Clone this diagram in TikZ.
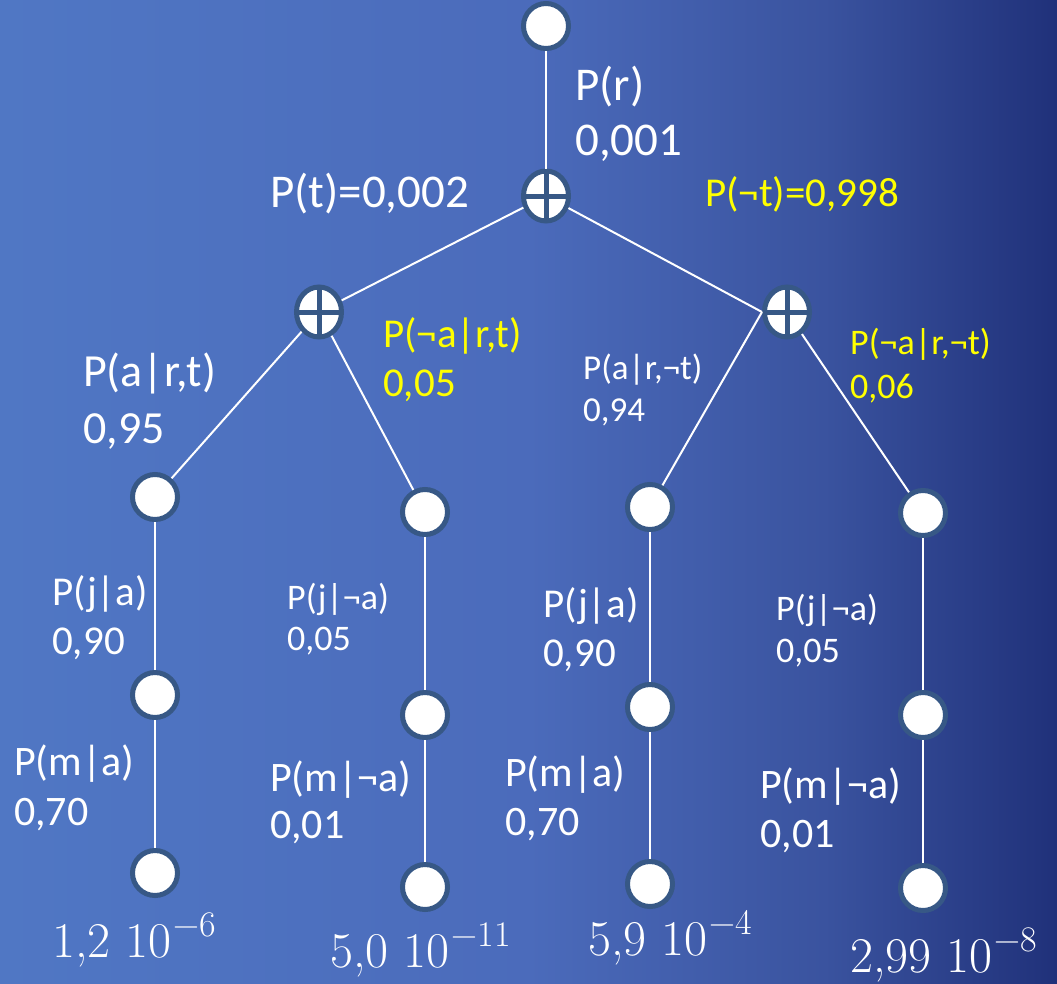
\documentclass[tikz,border=0pt]{standalone}
\usepackage{fontspec}
\setmainfont{Carlito}
\newfontfamily\numfont{Latin Modern Roman}
\usetikzlibrary{shapes.geometric}
\definecolor{bgA}{HTML}{5077C4}
\definecolor{bgB}{HTML}{4B6BBB}
\definecolor{bgC}{HTML}{3A539F}
\definecolor{bgD}{HTML}{20317A}
\definecolor{nodeborder}{HTML}{375886}
\definecolor{ylw}{HTML}{FFFF00}
\pgfdeclarehorizontalshading{bgshade}{100bp}{color(0bp)=(bgA); color(25bp)=(bgA); color(50bp)=(bgB); color(64bp)=(bgC); color(75bp)=(bgD); color(100bp)=(bgD)}
\newcommand{\fsz}[2]{\fontsize{#1}{#2}\selectfont}
\newcommand{\expo}[1]{\kern2pt\raisebox{0.42em}{\fsz{36}{40}#1}}
\begin{document}
\begin{tikzpicture}[x=1pt,y=-1pt,
  leaf/.style={circle, draw=nodeborder, line width=5pt, fill=white, minimum size=45pt, inner sep=0pt},
  chance/.style={ellipse, draw=nodeborder, line width=5pt, fill=white, minimum width=45pt, minimum height=50pt, inner sep=0pt,
    path picture={\draw[nodeborder, line width=5pt] (path picture bounding box.north) -- (path picture bounding box.south)
      (path picture bounding box.west) -- (path picture bounding box.east);}},
  edge/.style={draw=white, line width=2pt},
  lbl/.style={anchor=base west, align=left, inner sep=0pt, text=white},
  ylbl/.style={lbl, text=ylw},
  res/.style={anchor=base west, inner sep=0pt, text=white, font=\numfont\fsz{50}{56}}]
\fill[shading=bgshade] (0,0) rectangle (1057,983);
\useasboundingbox (0,0) rectangle (1057,983);
% nodes
\node[leaf] (root) at (546,26) {};
\node[chance] (c0) at (546,196) {};
\node[chance] (cL) at (319,312) {};
\node[chance] (cR) at (787,312) {};
\node[leaf] (L1) at (155,497) {};
\node[leaf] (L2) at (425,512) {};
\node[leaf] (R1) at (650,507) {};
\node[leaf] (R2) at (923,513) {};
\node[leaf] (L1b) at (155,695) {};
\node[leaf] (L2b) at (425,715) {};
\node[leaf] (R1b) at (650,707) {};
\node[leaf] (R2b) at (923,715) {};
\node[leaf] (L1c) at (155,873) {};
\node[leaf] (L2c) at (425,887) {};
\node[leaf] (R1c) at (650,884) {};
\node[leaf] (R2c) at (923,888) {};
% edges
\draw[edge] (root) -- (c0);
\draw[edge] (c0) -- (cL);
\draw[edge] (c0) -- (cR.west);
\draw[edge] (cL) -- (L1);
\draw[edge] (cL) -- (L2);
\draw[edge] (cR.west) -- (R1);
\draw[edge] (cR) -- (R2);
\draw[edge] (L1) -- (L1b);
\draw[edge] (L1b) -- (L1c);
\draw[edge] (L2) -- (L2b);
\draw[edge] (L2b) -- (L2c);
\draw[edge] (R1) -- (R1b);
\draw[edge] (R1b) -- (R1c);
\draw[edge] (R2) -- (R2b);
\draw[edge] (R2b) -- (R2c);
% labels (base = baseline of last line)
\node[lbl, font=\fsz{47}{55}] (tr) at (575,155) {P(r)\\0,001};
\node[lbl, font=\fsz{47}{55}] (tt) at (270,207) {P(t)=0,002};
\node[ylbl, font=\fsz{41}{48}] (tnt) at (705,206) {P(¬t)=0,998};
\node[lbl, font=\fsz{46}{57}] (ta) at (83,443) {P(a|r,t)\\0,95};
\node[ylbl, font=\fsz{41}{49}] (tna) at (383,396) {P(¬a|r,t)\\0,05};
\node[lbl, font=\fsz{35}{42}] (ta2) at (583,421) {P(a|r,¬t)\\0,94};
\node[ylbl, font=\fsz{36}{44}] (tna2) at (850,398) {P(¬a|r,¬t)\\0,06};
\node[lbl, font=\fsz{41}{49}] (j1) at (52,654) {P(j|a)\\0,90};
\node[lbl, font=\fsz{36}{41}] (j2) at (287,650) {P(j|¬a)\\0,05};
\node[lbl, font=\fsz{41}{49}] (j3) at (543,666) {P(j|a)\\0,90};
\node[lbl, font=\fsz{36}{42}] (j4) at (776,662) {P(j|¬a)\\0,05};
\node[lbl, font=\fsz{42}{50}] (m1) at (14,825) {P(m|a)\\0,70};
\node[lbl, font=\fsz{42}{47}] (m2) at (270,838) {P(m|¬a)\\0,01};
\node[lbl, font=\fsz{42}{49}] (m3) at (505,835) {P(m|a)\\0,70};
\node[lbl, font=\fsz{42}{49}] (m4) at (760,847) {P(m|¬a)\\0,01};
\node[res] (r1) at (52,957) {1,2 10\expo{−6}};
\node[res] (r2) at (330,967) {5,0 10\expo{−11}};
\node[res] (r3) at (588,955) {5,9 10\expo{−4}};
\node[res] (r4) at (850,972) {2,99 10\expo{−8}};
\end{tikzpicture}
\end{document}
